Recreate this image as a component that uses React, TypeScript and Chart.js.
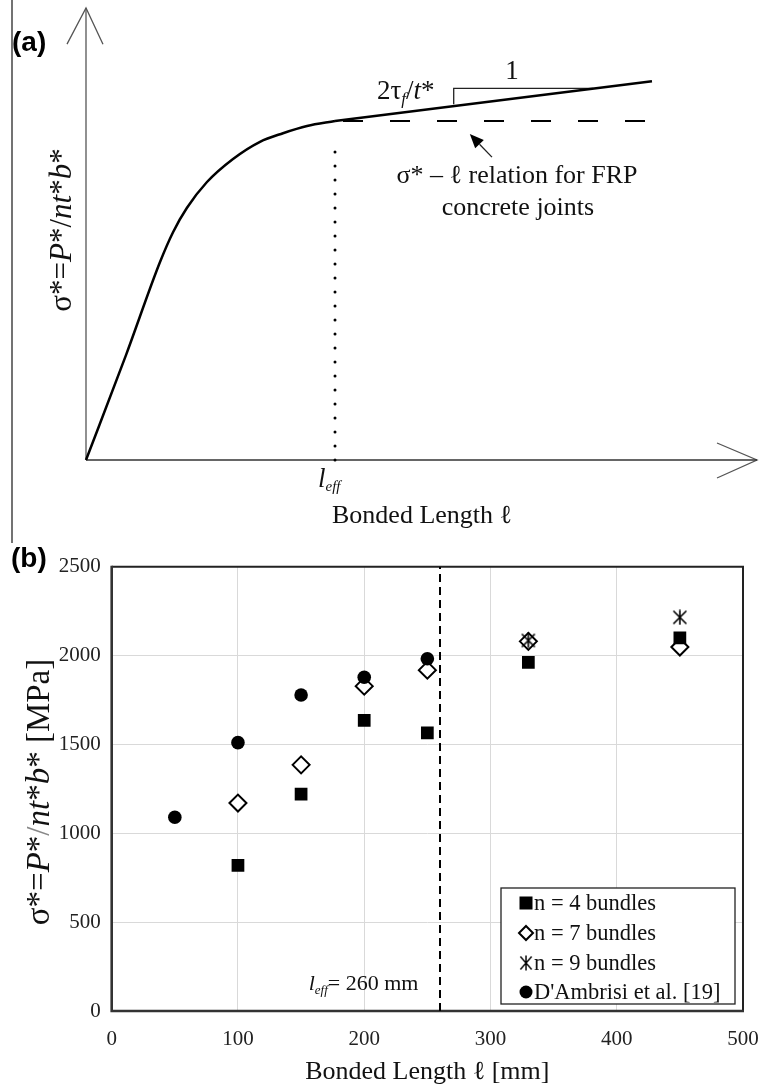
import React, { useEffect, useRef } from 'react';
import { Chart, registerables } from 'chart.js';

Chart.register(...registerables);

// ---------- Panel (b) data ----------
const xTicks = [0, 100, 200, 300, 400, 500];
const yTicks = [0, 500, 1000, 1500, 2000, 2500];
const seriesLabels = ['n = 4 bundles', 'n = 7 bundles', 'n = 9 bundles', "D'Ambrisi et al. [19]"];
const length4 = [100, 150, 200, 250, 330, 450];
const stress4 = [820, 1220, 1635, 1565, 1962, 2100];
const length7 = [100, 150, 200, 250, 330, 450];
const stress7 = [1170, 1385, 1828, 1918, 2080, 2048];
const length9 = [330, 450];
const stress9 = [2085, 2215];
const lengthDA = [50, 100, 150, 200, 250];
const stressDA = [1090, 1510, 1778, 1878, 1982];
const lEff = 260;

// ---------- Panel (a) schematic curve (arbitrary units, 0..100) ----------
const schemLength = [0, 5.96, 11.03, 12.97, 15.05, 18.03, 21.91, 25.93, 29.36, 32.94, 37.11];
const schemStress = [0, 23.2, 43.8, 50.4, 55.8, 61.5, 66.6, 70.4, 72.3, 73.9, 75.0];
const linearLength = [37.11, 84.35];
const linearStress = [75.0, 83.8];
const plateauStress = 75.0;
const slopeTriL = [54.8, 54.8, 75.6];
const slopeTriS = [78.7, 82.2, 82.2];

const SERIF = "'Liberation Serif', 'Times New Roman', serif";
const f = (size: number, style = '') => `${style} ${size}px ${SERIF}`.trim();

type Run = { t: string; f: string; dy?: number; c?: string };
function runsWidth(ctx: CanvasRenderingContext2D, runs: Run[]) {
  let w = 0;
  for (const r of runs) { ctx.font = r.f; w += ctx.measureText(r.t).width; }
  return w;
}
function drawRuns(ctx: CanvasRenderingContext2D, runs: Run[], x: number, y: number, color = '#111') {
  let cx = x;
  ctx.textAlign = 'left';
  ctx.textBaseline = 'alphabetic';
  for (const r of runs) {
    ctx.font = r.f;
    ctx.fillStyle = r.c || color;
    ctx.fillText(r.t, cx, y + (r.dy || 0));
    cx += ctx.measureText(r.t).width;
  }
}
function sigmaRuns(size: number, slashColor = '#111'): Run[] {
  return [
    { t: 'σ*=', f: f(size) },
    { t: 'P', f: f(size, 'italic') },
    { t: '*', f: f(size) },
    { t: '/', f: f(size), c: slashColor },
    { t: 'nt', f: f(size, 'italic') },
    { t: '*', f: f(size) },
    { t: 'b', f: f(size, 'italic') },
    { t: '*', f: f(size) },
  ];
}
function pts(xs: number[], ys: number[]) {
  return xs.map((x, i) => ({ x, y: ys[i] }));
}

function makeAsterisk(size: number) {
  const c = document.createElement('canvas');
  c.width = size; c.height = size;
  const g = c.getContext('2d')!;
  g.strokeStyle = '#000';
  g.lineWidth = 1.6;
  const m = 1.5, h = size / 2;
  g.beginPath();
  g.moveTo(m, m); g.lineTo(size - m, size - m);
  g.moveTo(size - m, m); g.lineTo(m, size - m);
  g.moveTo(h, 0.5); g.lineTo(h, size - 0.5);
  g.stroke();
  return c;
}

export default function App() {
  const refA = useRef<HTMLCanvasElement>(null);
  const refB = useRef<HTMLCanvasElement>(null);

  useEffect(() => {
    // ---------------- Panel (a) ----------------
    const lineDs = (data: any[], extra: any = {}) => ({
      data, showLine: true, pointRadius: 0, borderColor: '#000', borderWidth: 2.5,
      clip: false, fill: false, ...extra,
    });
    const axisColor = '#555';
    const panelAPlugin = {
      id: 'panelA',
      afterDraw(chart: any) {
        const ctx: CanvasRenderingContext2D = chart.ctx;
        const xs = chart.scales.x, ys = chart.scales.y;
        ctx.save();
        // frame line on the left
        ctx.strokeStyle = '#444'; ctx.lineWidth = 1.5;
        ctx.beginPath(); ctx.moveTo(12, 0); ctx.lineTo(12, 543); ctx.stroke();
        // (a)
        ctx.fillStyle = '#000';
        ctx.font = "bold 28px 'Liberation Sans', Arial, sans-serif";
        ctx.textAlign = 'left'; ctx.textBaseline = 'alphabetic';
        ctx.fillText('(a)', 12, 51);
        // arrow annotation
        const tail = { x: xs.getPixelForValue(60.5), y: ys.getPixelForValue(67.0) };
        const tip = { x: xs.getPixelForValue(57.2), y: ys.getPixelForValue(72.1) };
        const ang = Math.atan2(tip.y - tail.y, tip.x - tail.x);
        const hl = 14, hw = 6;
        const bx = tip.x - hl * Math.cos(ang), by = tip.y - hl * Math.sin(ang);
        ctx.strokeStyle = '#222'; ctx.lineWidth = 1.3;
        ctx.beginPath(); ctx.moveTo(tail.x, tail.y); ctx.lineTo(bx, by); ctx.stroke();
        ctx.fillStyle = '#000';
        ctx.beginPath();
        ctx.moveTo(tip.x, tip.y);
        ctx.lineTo(bx + hw * Math.sin(ang), by - hw * Math.cos(ang));
        ctx.lineTo(bx - hw * Math.sin(ang), by + hw * Math.cos(ang));
        ctx.closePath(); ctx.fill();
        // texts
        drawRuns(ctx, [
          { t: '2τ', f: f(27) },
          { t: 'f', f: f(17, 'italic'), dy: 5 },
          { t: '/', f: f(27) },
          { t: 't', f: f(27, 'italic') },
          { t: '*', f: f(27) },
        ], 377, 99);
        ctx.font = f(27); ctx.fillStyle = '#111'; ctx.textAlign = 'center';
        ctx.fillText('1', 512, 79);
        ctx.font = f(26);
        ctx.fillText('σ* – ℓ relation for FRP', 517, 183);
        ctx.fillText('concrete joints', 518, 215);
        ctx.fillText('Bonded Length ℓ', 422, 523);
        drawRuns(ctx, [
          { t: 'l', f: f(27, 'italic') },
          { t: 'eff', f: f(15, 'italic'), dy: 4 },
        ], 318, 487);
        // y-axis title rotated
        const yr = sigmaRuns(31);
        const w = runsWidth(ctx, yr);
        ctx.save();
        ctx.translate(71, 230);
        ctx.rotate(-Math.PI / 2);
        drawRuns(ctx, yr, -w / 2, 0);
        ctx.restore();
        ctx.restore();
      },
    };

    const chartA = new Chart(refA.current!, {
      type: 'scatter',
      data: {
        datasets: [
          lineDs(pts(schemLength, schemStress), { cubicInterpolationMode: 'monotone' }),
          lineDs(pts(linearLength, linearStress)),
          lineDs(pts(linearLength, [plateauStress, plateauStress]), { borderDash: [20, 27], borderDashOffset: 39, borderWidth: 2 }),
          lineDs(pts([linearLength[0], linearLength[0]], [0, 70.5]), { borderDash: [0, 14], borderCapStyle: 'round', borderWidth: 3 }),
          lineDs(pts(slopeTriL, slopeTriS), { borderWidth: 1.3, borderColor: '#222' }),
          lineDs(pts([0, 0], [0, 100]), { borderWidth: 1.3, borderColor: axisColor }),
          lineDs(pts([-2.83, 0, 2.53], [92.0, 100, 92.0]), { borderWidth: 1.3, borderColor: axisColor }),
          lineDs(pts([0, 100], [0, 0]), { borderWidth: 1.3, borderColor: '#333' }),
          lineDs(pts([94.04, 100, 94.04], [3.76, 0, -3.98]), { borderWidth: 1.3, borderColor: axisColor }),
        ],
      },
      options: {
        responsive: false,
        animation: false,
        layout: { padding: { left: 86, top: 8, right: 2, bottom: 85 } },
        scales: {
          x: { type: 'linear', display: false, min: 0, max: 100 },
          y: { type: 'linear', display: false, min: 0, max: 100 },
        },
        plugins: { legend: { display: false }, tooltip: { enabled: false } },
      },
      plugins: [panelAPlugin],
    } as any);

    // ---------------- Panel (b) ----------------
    const asterisk = makeAsterisk(16);
    const panelBPlugin = {
      id: 'panelB',
      beforeDatasetsDraw(chart: any) {
        const { ctx, chartArea: a } = chart;
        ctx.save();
        ctx.strokeStyle = '#222'; ctx.lineWidth = 2;
        ctx.beginPath();
        ctx.moveTo(a.left, a.top); ctx.lineTo(a.right, a.top); ctx.lineTo(a.right, a.bottom);
        ctx.stroke();
        ctx.strokeStyle = '#333'; ctx.lineWidth = 2.6;
        ctx.beginPath();
        ctx.moveTo(a.left, a.top - 1); ctx.lineTo(a.left, a.bottom); ctx.lineTo(a.right + 1, a.bottom);
        ctx.stroke();
        ctx.restore();
      },
      afterDraw(chart: any) {
        const ctx: CanvasRenderingContext2D = chart.ctx;
        const xs = chart.scales.x, ys = chart.scales.y;
        ctx.save();
        ctx.fillStyle = '#000';
        ctx.font = "bold 28px 'Liberation Sans', Arial, sans-serif";
        ctx.textAlign = 'left'; ctx.textBaseline = 'alphabetic';
        ctx.fillText('(b)', 11, 27);
        // l_eff label
        drawRuns(ctx, [
          { t: 'l', f: f(22, 'italic') },
          { t: 'eff', f: f(13, 'italic'), dy: 4 },
          { t: '= 260 mm', f: f(22) },
        ], xs.getPixelForValue(156), ys.getPixelForValue(120));
        // y title
        const yr = [...sigmaRuns(33, '#888'), { t: ' [MPa]', f: f(33) }];
        const w = runsWidth(ctx, yr);
        ctx.save();
        ctx.translate(49, 252);
        ctx.rotate(-Math.PI / 2);
        drawRuns(ctx, yr, -w / 2, 0);
        ctx.restore();
        // legend
        const L = 501, T = 348, R = 735, B = 464;
        ctx.fillStyle = '#fff';
        ctx.fillRect(L, T, R - L, B - T);
        ctx.strokeStyle = '#222'; ctx.lineWidth = 1.3;
        ctx.strokeRect(L, T, R - L, B - T);
        const rows = [363, 393, 423, 452];
        const mx = 526;
        ctx.fillStyle = '#000';
        ctx.fillRect(mx - 6.5, rows[0] - 6.5, 13, 13);
        ctx.strokeStyle = '#000'; ctx.lineWidth = 2;
        ctx.beginPath();
        ctx.moveTo(mx, rows[1] - 7); ctx.lineTo(mx + 7, rows[1]); ctx.lineTo(mx, rows[1] + 7); ctx.lineTo(mx - 7, rows[1]);
        ctx.closePath(); ctx.fillStyle = '#fff'; ctx.fill(); ctx.stroke();
        ctx.drawImage(asterisk, mx - 7, rows[2] - 8, 14, 16);
        ctx.fillStyle = '#000';
        ctx.beginPath(); ctx.arc(mx, rows[3], 6.5, 0, Math.PI * 2); ctx.fill();
        ctx.font = f(22.5); ctx.fillStyle = '#111';
        seriesLabels.forEach((lab, i) => ctx.fillText(lab, 534, rows[i] + 7));
        ctx.restore();
      },
    };

    const tickFont = { family: SERIF, size: 21 };
    const chartB = new Chart(refB.current!, {
      type: 'scatter',
      data: {
        datasets: [
          { label: seriesLabels[0], data: pts(length4, stress4), pointStyle: 'rect', pointRadius: 9, backgroundColor: '#000', borderColor: '#000', borderWidth: 0, order: 1 },
          { label: seriesLabels[1], data: pts(length7, stress7), pointStyle: 'rectRot', pointRadius: 8.5, backgroundColor: '#fff', borderColor: '#000', borderWidth: 2, order: 4 },
          { label: seriesLabels[2], data: pts(length9, stress9), pointStyle: asterisk, pointRadius: 8, borderColor: '#000', order: 2 },
          { label: seriesLabels[3], data: pts(lengthDA, stressDA), pointStyle: 'circle', pointRadius: 6.8, backgroundColor: '#000', borderColor: '#000', borderWidth: 0, order: 0 },
          { label: 'leff', data: pts([lEff, lEff], [0, yTicks[yTicks.length - 1]]), showLine: true, pointRadius: 0, borderColor: '#000', borderWidth: 2, borderDash: [8, 5], order: 5 },
        ],
      },
      options: {
        responsive: false,
        animation: false,
        layout: { padding: { left: 0, top: 26.7, right: 0, bottom: 0 } },
        scales: {
          x: {
            type: 'linear', min: xTicks[0], max: xTicks[xTicks.length - 1],
            afterBuildTicks: (s: any) => { s.ticks = xTicks.map((v) => ({ value: v })); },
            afterFit: (s: any) => { s.height = 77; s.paddingRight = 16; s.paddingLeft = 0; },
            ticks: { font: tickFont, color: '#222', padding: 16, maxRotation: 0, callback: (v: any) => String(v) },
            grid: { color: '#d9d9d9', lineWidth: 1, drawTicks: false },
            border: { display: false },
            title: { display: true, text: 'Bonded Length ℓ [mm]', font: { family: SERIF, size: 26 }, color: '#111', padding: { top: 0, bottom: 0 } },
          },
          y: {
            type: 'linear', min: yTicks[0], max: yTicks[yTicks.length - 1],
            afterBuildTicks: (s: any) => { s.ticks = yTicks.map((v) => ({ value: v })); },
            afterFit: (s: any) => { s.width = 111.7; s.paddingTop = 0; s.paddingBottom = 0; },
            ticks: { font: tickFont, color: '#222', padding: 11, callback: (v: any) => String(v) },
            grid: { color: '#d9d9d9', lineWidth: 1, drawTicks: false },
            border: { display: false },
          },
        },
        plugins: { legend: { display: false }, tooltip: { enabled: false } },
      },
      plugins: [panelBPlugin],
    } as any);

    return () => { chartA.destroy(); chartB.destroy(); };
  }, []);

  return (
    <div style={{ position: 'absolute', left: 0, top: 0, width: 759, height: 1088, background: '#fff' }}>
      <canvas ref={refA} width={759} height={545} style={{ position: 'absolute', left: 0, top: 0, width: 759, height: 545 }} />
      <canvas ref={refB} width={759} height={548} style={{ position: 'absolute', left: 0, top: 540, width: 759, height: 548 }} />
    </div>
  );
}
